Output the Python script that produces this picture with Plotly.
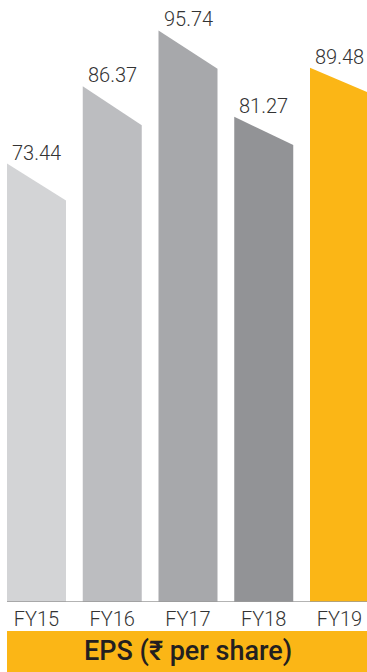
import plotly.graph_objects as go

# ---- data ----
categories = ["FY15", "FY16", "FY17", "FY18", "FY19"]
eps_values = [73.44, 86.37, 95.74, 81.27, 89.48]
title_text = "EPS (₹ per share)"

# ---- style ----
bar_colors = ["#d3d4d6", "#bcbdc0", "#a7a8ab", "#929396", "#fbb616"]
slant_drop = [6.2, 6.5, 6.4, 4.7, 4.2]   # drop of the top-right corner (value units)
half_w = 0.3894
orange = "#fbb616"
W, H = 367, 672
base_px = 602
px_per_unit = 5.97
x0 = -36.5 / 75.75
x1 = x0 + W / 75.75

fig = go.Figure()
for i, (cat, v) in enumerate(zip(categories, eps_values)):
    d = slant_drop[i]
    fig.add_trace(go.Scatter(
        x=[i - half_w, i - half_w, i + half_w, i + half_w, i - half_w],
        y=[0, v, v - d, 0, 0],
        fill="toself", fillcolor=bar_colors[i], mode="lines",
        line=dict(width=0, color=bar_colors[i]),
        hoverinfo="skip", showlegend=False,
    ))

for i, v in enumerate(eps_values):
    fig.add_annotation(x=i, y=v, xref="x", yref="y", text=f"{v:.2f}",
                       showarrow=False, xanchor="center", yanchor="bottom", yshift=-3,
                       font=dict(family="Roboto", size=20, color="#333333", weight=300))

# baseline
fig.add_shape(type="line", xref="x", yref="y", x0=-half_w, x1=x1, y0=0, y1=0,
              line=dict(color="#9a9a9a", width=1.5), layer="above")
# banner
fig.add_shape(type="rect", xref="paper", yref="paper",
              x0=7 / W, x1=1, y0=(base_px - 672) / base_px, y1=(base_px - 631) / base_px,
              fillcolor=orange, line=dict(width=0))
fig.add_annotation(text=title_text, xref="paper", yref="paper",
                   x=187.5 / W, y=(base_px - 651) / base_px, showarrow=False,
                   xanchor="center", yanchor="middle",
                   font=dict(family="Roboto", size=27, color="#231f20", weight=500))

fig.update_xaxes(range=[x0, x1], tickvals=list(range(len(categories))), ticktext=categories,
                 showgrid=False, zeroline=False, showline=False, ticks="",
                 ticklabelstandoff=3,
                 tickfont=dict(family="Roboto", size=20, color="#333333", weight=300))
fig.update_yaxes(range=[0, base_px / px_per_unit], visible=False, showgrid=False)
fig.update_layout(width=W, height=H, margin=dict(l=0, r=0, t=0, b=H - base_px),
                  plot_bgcolor="white", paper_bgcolor="white")

fig.write_html("out.html")
